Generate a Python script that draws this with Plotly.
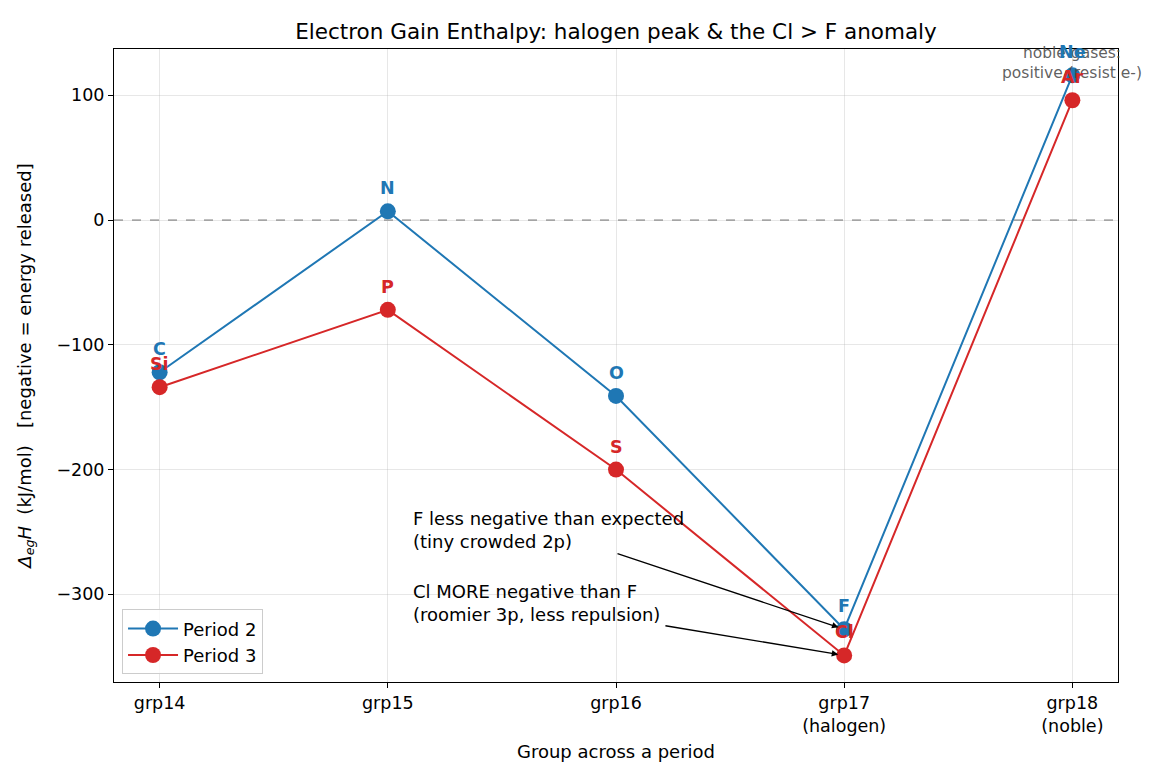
import plotly.graph_objects as go

groups = ["grp14", "grp15", "grp16", "grp17<br>(halogen)", "grp18<br>(noble)"]
p2_elements = ["C", "N", "O", "F", "Ne"]
p2_values = [-122, 7, -141, -328, 116]
p3_elements = ["Si", "P", "S", "Cl", "Ar"]
p3_values = [-134, -72, -200, -349, 96]

BLUE = "#1f77b4"
RED = "#d62728"
FONT = "DejaVu Sans"
xs = list(range(len(groups)))

fig = go.Figure()
fig.add_trace(go.Scatter(x=xs, y=p2_values, mode="lines+markers", name="Period 2",
                         line=dict(color=BLUE, width=2), marker=dict(size=16, color=BLUE)))
fig.add_trace(go.Scatter(x=xs, y=p3_values, mode="lines+markers", name="Period 3",
                         line=dict(color=RED, width=2), marker=dict(size=16, color=RED)))

ann = []
ann.append(dict(x=4, y=109, text="noble gases:<br>positive (resist e-)", showarrow=False,
                xanchor="center", yanchor="bottom", align="center",
                font=dict(family=FONT, size=15.5, color="rgba(68,68,68,0.85)")))
for els, vals, col in [(p2_elements, p2_values, BLUE), (p3_elements, p3_values, RED)]:
    for x, e, v in zip(xs, els, vals):
        ann.append(dict(x=x, y=v, text=f"<b>{e}</b>", showarrow=False, xanchor="center",
                        yanchor="bottom", yshift=11, font=dict(family=FONT, size=17.5, color=col)))

# arrows
ann.append(dict(x=3, y=p2_values[3], ax=2.0, ay=-267, axref="x", ayref="y", xref="x", yref="y",
                text="", showarrow=True, arrowhead=2, arrowsize=1, arrowwidth=1.3, arrowcolor="black", standoff=6))
ann.append(dict(x=3, y=p3_values[3], ax=2.21, ay=-325, axref="x", ayref="y", xref="x", yref="y",
                text="", showarrow=True, arrowhead=2, arrowsize=1, arrowwidth=1.3, arrowcolor="black", standoff=6))
ann.append(dict(x=1.1, y=-229, text="F less negative than expected<br>(tiny crowded 2p)", showarrow=False,
                xanchor="left", yanchor="top", align="left", font=dict(family=FONT, size=18, color="black")))
ann.append(dict(x=1.1, y=-288, text="Cl MORE negative than F<br>(roomier 3p, less repulsion)", showarrow=False,
                xanchor="left", yanchor="top", align="left", font=dict(family=FONT, size=18, color="black")))

fig.update_layout(
    width=1170, height=780,
    margin=dict(l=114, r=52, t=49, b=98),
    paper_bgcolor="white", plot_bgcolor="white",
    font=dict(family=FONT, size=17.5, color="black"),
    title=dict(text="Electron Gain Enthalpy: halogen peak & the Cl > F anomaly", x=0.5265, xanchor="center",
               y=0.96, yanchor="middle", font=dict(size=21.5, color="black")),
    annotations=ann,
    showlegend=True,
    legend=dict(x=0.008, y=0.012, xanchor="left", yanchor="bottom", bgcolor="rgba(255,255,255,0.8)",
                bordercolor="#cccccc", borderwidth=1, font=dict(size=18), itemwidth=50),
    shapes=[dict(type="line", xref="paper", x0=0, x1=1, yref="y", y0=0, y1=0,
                 line=dict(color="gray", width=1.3, dash="dash"), layer="below")],
)
fig.update_xaxes(range=[-0.2, 4.2], tickvals=xs, ticktext=groups, showline=True, mirror=True,
                 linecolor="black", linewidth=1, ticks="outside", ticklen=5, tickcolor="black",
                 showgrid=True, gridcolor="rgba(176,176,176,0.3)", zeroline=False,
                 title=dict(text="Group across a period", font=dict(size=18), standoff=10),
                 tickfont=dict(size=17.5))
fig.update_yaxes(range=[-370.3, 137.1], tickvals=[-300, -200, -100, 0, 100],
                 ticktext=["\u2212300", "\u2212200", "\u2212100", "0", "100"], showline=True, mirror=True,
                 linecolor="black", linewidth=1, ticks="outside", ticklen=5, tickcolor="black",
                 showgrid=True, gridcolor="rgba(176,176,176,0.3)", zeroline=False,
                 title=dict(text="<i>Δ</i><sub><i>eg</i></sub><i>H</i>  (kJ/mol)   [negative = energy released]",
                            font=dict(size=18), standoff=20),
                 tickfont=dict(size=17.5))
fig.write_html("out.html")
